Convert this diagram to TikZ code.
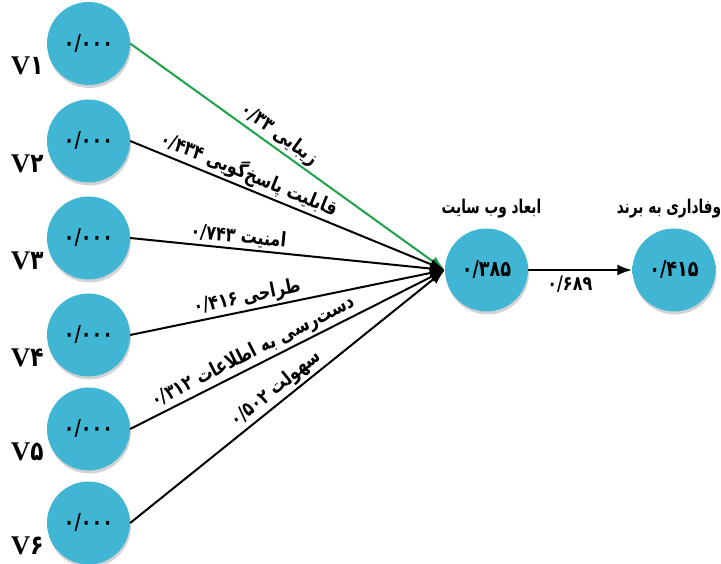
\documentclass[tikz,border=0pt]{standalone}
\usepackage{fontspec}
\setmainfont{Liberation Serif}
\newfontfamily\fa[Script=Arabic,FakeStretch=0.8]{DejaVu Sans}
\newfontfamily\fatitle[Script=Arabic,FakeStretch=0.72]{DejaVu Sans}
\TeXXeTstate=1
\usetikzlibrary{arrows.meta,shadows}
\definecolor{ballmid}{RGB}{64,182,212}
\definecolor{ballrim}{RGB}{36,138,170}
\definecolor{linkgreen}{RGB}{28,162,72}
\pgfdeclareradialshading{ballshade}{\pgfpoint{0bp}{0bp}}{color(0bp)=(ballmid); color(37bp)=(ballmid); color(50bp)=(ballrim); color(100bp)=(ballrim)}
\tikzset{
  ball/.style={circle, minimum size=83pt, inner sep=0pt, shading=ballshade,
    drop shadow={opacity=0.35, shadow xshift=1pt, shadow yshift=-3pt},
    font=\fa\bfseries\fontsize{22}{22}\selectfont},
  vlab/.style={anchor=east, inner sep=0pt, xshift=-8pt, yshift=-3pt, font=\bfseries\fontsize{27}{27}\selectfont},
  title/.style={inner sep=0pt, font=\fatitle\bfseries\fontsize{19}{19}\selectfont},
  link/.style={line width=2pt, -{Latex[length=15pt,width=11pt]}},
  elab/.style={sloped, above, inner sep=2pt, text=black, font=\fa\bfseries\fontsize{20}{20}\selectfont}
}

\begin{document}
\begin{tikzpicture}[x=1pt, y=-1pt]
    \useasboundingbox (0,0) rectangle (721,564);
    \foreach \i/\y/\d in {1/43.5/۱, 2/141/۲, 3/238/۳, 4/335/۴, 5/429/۵, 6/523/۶}
        \node[ball, label={[vlab]-152:V{\fa\d}}] (v\i) at (88.5,\y) {۰/۰۰۰};
    \node[ball, label distance=9pt, label={[title, xshift=5pt, yshift=10pt]above:\beginR ابعاد وب سایت\endR}] (dim) at (486.5,270) {۰/۳۸۵};
    \node[ball, label distance=9pt, label={[title, xshift=-5pt, yshift=10pt]above:\beginR وفاداری به برند\endR}] (loyal) at (674,270) {۰/۴۱۵};
    \draw[link, linkgreen] (v1.east) -- node[elab, pos=0.45] {\beginR زیبایی ۰/۳۳\endR} (dim.west);
    \draw[link] (v2.east) -- node[elab, pos=0.36] {\beginR قابلیت پاسخ‌گویی ۰/۴۳۴\endR} (dim.west);
    \draw[link] (v3.east) -- node[elab, pos=0.34] {\beginR امنیت ۰/۷۴۳\endR} (dim.west);
    \draw[link] (v4.east) -- node[elab, pos=0.38] {\beginR طراحی ۰/۴۱۶\endR} (dim.west);
    \draw[link] (v5.east) -- node[elab, pos=0.41] {\beginR دست‌رسی به اطلاعات ۰/۳۱۲\endR} (dim.west);
    \draw[link] (v6.east) -- node[elab, pos=0.49] {\beginR سهولت ۰/۵۰۲\endR} (dim.west);
    \draw[link, line width=2.4pt] (dim) -- node[below, pos=0.4, inner sep=5pt, font=\fa\bfseries\fontsize{20}{20}\selectfont] {۰/۶۸۹} (loyal);
\end{tikzpicture}
\end{document}
